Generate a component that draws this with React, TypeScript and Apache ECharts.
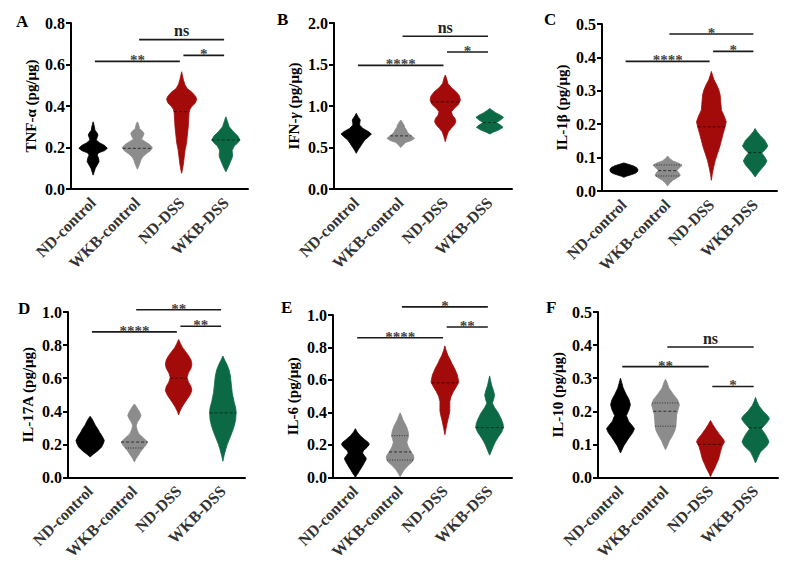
import React, { useEffect, useRef } from 'react';
import * as echarts from 'echarts';

const categories = ['ND-control', 'WKB-control', 'ND-DSS', 'WKB-DSS'];
const groupColors = ['#000000', '#8c8c8c', '#a30b0b', '#0b6a45'];
const medianColors = ['#000000', '#2e2e2e', '#4a0000', '#03301c'];

// Violin profiles: [value, relative half-width (fraction of category band)], top to bottom

// ---- Panel A: TNF-α
const tnfNDcontrol = [[0.324, 0], [0.30, 0.03], [0.284, 0.04], [0.27, 0.09], [0.26, 0.11], [0.248, 0.09], [0.236, 0.07], [0.222, 0.15], [0.21, 0.26], [0.196, 0.32], [0.185, 0.26], [0.175, 0.13], [0.164, 0.09], [0.15, 0.12], [0.132, 0.135], [0.115, 0.09], [0.10, 0.05], [0.08, 0.02], [0.067, 0]];
const tnfWKBcontrol = [[0.324, 0], [0.31, 0.03], [0.29, 0.05], [0.28, 0.11], [0.268, 0.15], [0.255, 0.13], [0.24, 0.09], [0.228, 0.18], [0.214, 0.28], [0.20, 0.34], [0.185, 0.3], [0.17, 0.2], [0.155, 0.12], [0.14, 0.08], [0.12, 0.05], [0.105, 0.02], [0.095, 0]];
const tnfNDDSS = [[0.565, 0], [0.545, 0.02], [0.527, 0.04], [0.505, 0.07], [0.485, 0.12], [0.465, 0.24], [0.445, 0.32], [0.432, 0.34], [0.415, 0.31], [0.397, 0.23], [0.385, 0.19], [0.37, 0.17], [0.34, 0.16], [0.30, 0.15], [0.26, 0.13], [0.22, 0.11], [0.19, 0.08], [0.156, 0.06], [0.12, 0.04], [0.09, 0.015], [0.076, 0]];
const tnfWKBDSS = [[0.348, 0], [0.33, 0.03], [0.30, 0.075], [0.276, 0.17], [0.255, 0.27], [0.236, 0.32], [0.22, 0.26], [0.207, 0.19], [0.185, 0.14], [0.17, 0.15], [0.156, 0.15], [0.14, 0.12], [0.124, 0.09], [0.10, 0.04], [0.083, 0]];
const tnfMedians = [0.196, 0.196, 0.373, 0.236];
const tnfQuartiles = [[], [], [], []];
const tnfSig = [[0, 2, 0.615, '**'], [1, 3, 0.72, 'ns'], [2, 3, 0.644, '*']];

// ---- Panel B: IFN-γ
const ifnNDcontrol = [[0.912, 0], [0.88, 0.03], [0.85, 0.07], [0.83, 0.09], [0.80, 0.08], [0.77, 0.075], [0.73, 0.15], [0.69, 0.28], [0.663, 0.34], [0.63, 0.28], [0.59, 0.19], [0.55, 0.14], [0.51, 0.09], [0.47, 0.04], [0.43, 0]];
const ifnWKBcontrol = [[0.83, 0], [0.80, 0.04], [0.77, 0.075], [0.74, 0.09], [0.71, 0.13], [0.685, 0.15], [0.663, 0.19], [0.64, 0.24], [0.61, 0.31], [0.585, 0.24], [0.56, 0.11], [0.53, 0.05], [0.50, 0]];
const ifnNDDSS = [[1.373, 0], [1.33, 0.03], [1.27, 0.06], [1.22, 0.14], [1.17, 0.25], [1.12, 0.32], [1.07, 0.34], [1.02, 0.3], [0.97, 0.2], [0.93, 0.14], [0.89, 0.16], [0.85, 0.22], [0.81, 0.24], [0.77, 0.2], [0.73, 0.13], [0.69, 0.07], [0.63, 0.03], [0.57, 0]];
const ifnWKBDSS = [[0.97, 0], [0.95, 0.05], [0.92, 0.13], [0.89, 0.24], [0.863, 0.31], [0.83, 0.24], [0.80, 0.15], [0.77, 0.24], [0.743, 0.3], [0.71, 0.2], [0.685, 0.08], [0.663, 0]];
const ifnMedians = [0.66, 0.64, 1.05, 0.8];
const ifnQuartiles = [[], [], [], []];
const ifnSig = [[0, 2, 1.49, '****'], [1, 3, 1.84, 'ns'], [2, 3, 1.65, '*']];

// ---- Panel C: IL-1β
const il1NDcontrol = [[0.084, 0], [0.08, 0.1], [0.075, 0.22], [0.07, 0.29], [0.064, 0.32], [0.058, 0.31], [0.053, 0.26], [0.048, 0.15], [0.044, 0.05], [0.041, 0]];
const il1WKBcontrol = [[0.105, 0], [0.098, 0.04], [0.09, 0.12], [0.083, 0.26], [0.077, 0.33], [0.07, 0.28], [0.062, 0.21], [0.054, 0.26], [0.047, 0.29], [0.04, 0.22], [0.032, 0.12], [0.024, 0.05], [0.015, 0]];
const il1NDDSS = [[0.358, 0], [0.345, 0.03], [0.333, 0.06], [0.318, 0.12], [0.303, 0.17], [0.288, 0.2], [0.273, 0.21], [0.258, 0.22], [0.242, 0.23], [0.225, 0.29], [0.207, 0.34], [0.19, 0.31], [0.172, 0.27], [0.152, 0.23], [0.132, 0.19], [0.112, 0.14], [0.092, 0.09], [0.07, 0.05], [0.05, 0.02], [0.032, 0]];
const il1WKBDSS = [[0.187, 0], [0.178, 0.04], [0.167, 0.11], [0.152, 0.22], [0.135, 0.29], [0.125, 0.24], [0.114, 0.15], [0.102, 0.22], [0.09, 0.27], [0.078, 0.22], [0.067, 0.15], [0.055, 0.07], [0.042, 0]];
const il1Medians = [0.062, 0.061, 0.192, 0.115];
const il1Quartiles = [[], [0.078, 0.045], [], []];
const il1Sig = [[0, 2, 0.388, '****'], [1, 3, 0.47, '*'], [2, 3, 0.418, '*']];

// ---- Panel D: IL-17A
const il17NDcontrol = [[0.37, 0], [0.355, 0.04], [0.335, 0.08], [0.314, 0.12], [0.295, 0.17], [0.274, 0.21], [0.25, 0.27], [0.224, 0.32], [0.205, 0.3], [0.184, 0.26], [0.168, 0.2], [0.154, 0.14], [0.14, 0.07], [0.124, 0]];
const il17WKBcontrol = [[0.444, 0], [0.43, 0.04], [0.414, 0.075], [0.395, 0.12], [0.374, 0.15], [0.355, 0.12], [0.335, 0.07], [0.314, 0.04], [0.29, 0.06], [0.264, 0.1], [0.24, 0.2], [0.214, 0.3], [0.195, 0.26], [0.174, 0.19], [0.155, 0.14], [0.134, 0.09], [0.115, 0.04], [0.094, 0]];
const il17NDDSS = [[0.834, 0], [0.81, 0.04], [0.784, 0.09], [0.76, 0.16], [0.734, 0.23], [0.71, 0.28], [0.684, 0.3], [0.66, 0.28], [0.632, 0.22], [0.604, 0.19], [0.577, 0.22], [0.55, 0.28], [0.524, 0.3], [0.495, 0.25], [0.464, 0.17], [0.444, 0.12], [0.424, 0.075], [0.40, 0.03], [0.378, 0]];
const il17WKBDSS = [[0.734, 0], [0.71, 0.04], [0.684, 0.09], [0.65, 0.14], [0.614, 0.17], [0.564, 0.19], [0.514, 0.21], [0.46, 0.25], [0.42, 0.29], [0.394, 0.3], [0.35, 0.29], [0.314, 0.26], [0.274, 0.21], [0.234, 0.15], [0.20, 0.1], [0.174, 0.07], [0.135, 0.03], [0.098, 0]];
const il17Medians = [0.224, 0.214, 0.6, 0.39];
const il17Quartiles = [[], [0.178], [], []];
const il17Sig = [[0, 2, 0.88, '****'], [1, 3, 1.014, '**'], [2, 3, 0.914, '**']];

// ---- Panel E: IL-6
const il6NDcontrol = [[0.30, 0], [0.28, 0.04], [0.257, 0.11], [0.235, 0.2], [0.215, 0.29], [0.203, 0.31], [0.185, 0.26], [0.165, 0.18], [0.15, 0.16], [0.135, 0.2], [0.12, 0.24], [0.11, 0.24], [0.09, 0.2], [0.066, 0.15], [0.045, 0.1], [0.026, 0.06], [0.01, 0.02], [0.0, 0]];
const il6WKBcontrol = [[0.398, 0], [0.38, 0.03], [0.357, 0.06], [0.33, 0.11], [0.307, 0.15], [0.28, 0.18], [0.257, 0.19], [0.235, 0.17], [0.217, 0.15], [0.19, 0.18], [0.16, 0.24], [0.135, 0.3], [0.116, 0.31], [0.095, 0.27], [0.076, 0.19], [0.05, 0.1], [0.025, 0.04], [0.005, 0]];
const il6NDDSS = [[0.81, 0], [0.78, 0.03], [0.75, 0.07], [0.729, 0.11], [0.70, 0.16], [0.669, 0.22], [0.63, 0.28], [0.588, 0.31], [0.56, 0.26], [0.528, 0.19], [0.50, 0.14], [0.468, 0.11], [0.44, 0.11], [0.408, 0.11], [0.38, 0.09], [0.347, 0.06], [0.30, 0.025], [0.263, 0]];
const il6WKBDSS = [[0.625, 0], [0.60, 0.02], [0.568, 0.045], [0.54, 0.08], [0.508, 0.11], [0.48, 0.09], [0.458, 0.06], [0.43, 0.11], [0.398, 0.19], [0.36, 0.26], [0.33, 0.3], [0.307, 0.31], [0.28, 0.27], [0.247, 0.19], [0.22, 0.13], [0.197, 0.09], [0.17, 0.05], [0.137, 0]];
const il6Medians = [0.15, 0.157, 0.582, 0.307];
const il6Quartiles = [[], [0.257, 0.107], [], []];
const il6Sig = [[0, 2, 0.86, '****'], [1, 3, 1.05, '*'], [2, 3, 0.926, '**']];

// ---- Panel F: IL-10
const il10NDcontrol = [[0.30, 0], [0.285, 0.03], [0.27, 0.06], [0.25, 0.13], [0.235, 0.19], [0.22, 0.22], [0.205, 0.19], [0.187, 0.13], [0.17, 0.18], [0.155, 0.27], [0.147, 0.31], [0.135, 0.27], [0.122, 0.2], [0.112, 0.15], [0.095, 0.07], [0.074, 0]];
const il10WKBcontrol = [[0.297, 0], [0.285, 0.04], [0.27, 0.075], [0.25, 0.18], [0.235, 0.27], [0.22, 0.31], [0.205, 0.28], [0.19, 0.25], [0.172, 0.24], [0.155, 0.23], [0.142, 0.21], [0.125, 0.15], [0.112, 0.09], [0.095, 0.04], [0.084, 0]];
const il10NDDSS = [[0.172, 0], [0.16, 0.05], [0.147, 0.11], [0.13, 0.2], [0.115, 0.29], [0.107, 0.31], [0.095, 0.26], [0.077, 0.22], [0.06, 0.19], [0.052, 0.17], [0.04, 0.13], [0.027, 0.09], [0.012, 0.03], [0.002, 0]];
const il10WKBDSS = [[0.242, 0], [0.23, 0.03], [0.217, 0.075], [0.20, 0.17], [0.185, 0.28], [0.177, 0.31], [0.165, 0.25], [0.147, 0.13], [0.13, 0.22], [0.115, 0.28], [0.107, 0.3], [0.095, 0.25], [0.077, 0.11], [0.06, 0.05], [0.044, 0]];
const il10Medians = [0.18, 0.2, 0.1, 0.15];
const il10Quartiles = [[], [0.225, 0.155], [], []];
const il10Sig = [[0, 2, 0.335, '**'], [1, 3, 0.394, 'ns'], [2, 3, 0.275, '*']];

const panelLetters = ['A', 'B', 'C', 'D', 'E', 'F'];
const yTitles = ['TNF-α (pg/μg)', 'IFN-{i|γ} (pg/μg)', 'IL-1β (pg/μg)', 'IL-17A (pg/μg)', 'IL-6 (pg/μg)', 'IL-10 (pg/μg)'];
const yMaxes = [0.8, 2.0, 0.5, 1.0, 1.0, 0.5];
const yIntervals = [0.2, 0.5, 0.1, 0.2, 0.2, 0.1];

const panelData = [
  { profiles: [tnfNDcontrol, tnfWKBcontrol, tnfNDDSS, tnfWKBDSS], medians: tnfMedians, quartiles: tnfQuartiles, sig: tnfSig },
  { profiles: [ifnNDcontrol, ifnWKBcontrol, ifnNDDSS, ifnWKBDSS], medians: ifnMedians, quartiles: ifnQuartiles, sig: ifnSig },
  { profiles: [il1NDcontrol, il1WKBcontrol, il1NDDSS, il1WKBDSS], medians: il1Medians, quartiles: il1Quartiles, sig: il1Sig },
  { profiles: [il17NDcontrol, il17WKBcontrol, il17NDDSS, il17WKBDSS], medians: il17Medians, quartiles: il17Quartiles, sig: il17Sig },
  { profiles: [il6NDcontrol, il6WKBcontrol, il6NDDSS, il6WKBDSS], medians: il6Medians, quartiles: il6Quartiles, sig: il6Sig },
  { profiles: [il10NDcontrol, il10WKBcontrol, il10NDDSS, il10WKBDSS], medians: il10Medians, quartiles: il10Quartiles, sig: il10Sig },
];

// layout (pixels)
const gridBoxes = [
  { left: 71, top: 23, width: 177, height: 166 },
  { left: 334, top: 23, width: 178, height: 166 },
  { left: 602, top: 24, width: 175, height: 167 },
  { left: 68, top: 312, width: 177, height: 167 },
  { left: 333, top: 315, width: 179, height: 166 },
  { left: 598, top: 312, width: 180, height: 167 },
];
const letterPos = [
  { left: 11, top: 8 }, { left: 272, top: 6 }, { left: 539, top: 6 },
  { left: 13, top: 295 }, { left: 276, top: 294 }, { left: 541, top: 294 },
];

const SERIF = '"Liberation Serif", "DejaVu Serif", serif';

function widthAt(prof: number[][], v: number): number {
  for (let i = 0; i < prof.length - 1; i++) {
    const [v1, w1] = prof[i];
    const [v2, w2] = prof[i + 1];
    if (v <= v1 && v >= v2) {
      const t = v1 === v2 ? 0 : (v1 - v) / (v1 - v2);
      return w1 + (w2 - w1) * t;
    }
  }
  return 0;
}

export default function App() {
  const ref = useRef<HTMLDivElement>(null);
  useEffect(() => {
    if (!ref.current) return;
    const chart = echarts.init(ref.current, null, { renderer: 'svg' });
    const grid: any[] = [];
    const xAxis: any[] = [];
    const yAxis: any[] = [];
    const series: any[] = [];
    const title: any[] = [];

    panelData.forEach((pd, p) => {
      grid.push({ ...gridBoxes[p], containLabel: false });
      title.push({
        text: panelLetters[p], left: letterPos[p].left, top: letterPos[p].top,
        textStyle: { fontFamily: SERIF, fontWeight: 'bold', fontSize: 17, color: '#000' },
      });
      xAxis.push({
        type: 'category', gridIndex: p, data: categories, boundaryGap: true,
        axisLine: { show: true, lineStyle: { color: '#000', width: 2 } },
        axisTick: { show: false },
        axisLabel: {
          rotate: 45, interval: 0, margin: 11, color: '#333333',
          fontFamily: SERIF, fontWeight: 'bold', fontSize: 16,
        },
        splitLine: { show: false },
      });
      yAxis.push({
        type: 'value', gridIndex: p, min: 0, max: yMaxes[p], interval: yIntervals[p],
        name: yTitles[p], nameLocation: 'middle', nameGap: 33,
        nameTextStyle: {
          fontFamily: SERIF, fontWeight: 'bold', fontSize: 15, color: '#000',
          rich: { i: { fontFamily: SERIF, fontWeight: 'bold', fontStyle: 'italic', fontSize: 15, color: '#000' } },
        },
        axisLine: { show: true, lineStyle: { color: '#000', width: 2 } },
        axisTick: { show: true, length: 5, lineStyle: { color: '#000', width: 2 } },
        axisLabel: {
          color: '#000', fontFamily: SERIF, fontWeight: 'bold', fontSize: 16, margin: 6,
          formatter: (v: number) => v.toFixed(1),
        },
        splitLine: { show: false },
      });

      // violins
      series.push({
        type: 'custom', xAxisIndex: p, yAxisIndex: p, clip: false,
        data: categories.map((_, i) => [i, pd.medians[i]]),
        renderItem: (params: any, api: any) => {
          const gi = params.dataIndex;
          const prof = pd.profiles[gi];
          const band = api.size([1, 0])[0];
          const cx = api.coord([gi, 0])[0];
          const right = prof.map(([v, w]) => [cx + w * band, api.coord([gi, v])[1]]);
          const left = prof.slice(1, prof.length - 1).reverse().map(([v, w]) => [cx - w * band, api.coord([gi, v])[1]]);
          const children: any[] = [{
            type: 'polygon',
            shape: { points: right.concat(left) },
            style: { fill: groupColors[gi], stroke: groupColors[gi], lineWidth: 0.8, lineJoin: 'round' },
          }];
          const addLine = (v: number, dash: number[]) => {
            const w = widthAt(prof, v) * band;
            const y = api.coord([gi, v])[1];
            children.push({
              type: 'line', shape: { x1: cx - w, y1: y, x2: cx + w, y2: y },
              style: { stroke: medianColors[gi], lineWidth: 1, lineDash: dash },
            });
          };
          addLine(pd.medians[gi], [3, 2]);
          (pd.quartiles[gi] as number[]).forEach((q) => addLine(q, [1, 1.5]));
          return { type: 'group', children };
        },
        z: 3,
      });

      // significance brackets
      series.push({
        type: 'custom', xAxisIndex: p, yAxisIndex: p, clip: false,
        data: pd.sig.map((s) => [s[0], s[2], s[1]]),
        renderItem: (params: any, api: any) => {
          const s = pd.sig[params.dataIndex];
          const from = s[0] as number, to = s[1] as number, yv = s[2] as number, label = s[3] as string;
          const band = api.size([1, 0])[0];
          const x1 = api.coord([from, yv])[0] + 0.04 * band;
          const x2 = api.coord([to, yv])[0] - 0.04 * band;
          const y = api.coord([from, yv])[1];
          const isStar = label.indexOf('*') >= 0;
          return {
            type: 'group',
            children: [
              { type: 'line', shape: { x1, y1: y, x2, y2: y }, style: { stroke: '#1a1a1a', lineWidth: 1.6 } },
              {
                type: 'text',
                style: {
                  text: label, x: (x1 + x2) / 2, y: y - 1,
                  align: 'center', verticalAlign: isStar ? 'middle' : 'bottom',
                  fontFamily: SERIF, fontWeight: 'bold', fontSize: isStar ? 15 : 16,
                  fill: isStar ? '#444' : '#222',
                },
              },
            ],
          };
        },
        z: 4,
      });
    });

    chart.setOption({
      animation: false,
      backgroundColor: '#ffffff',
      title, grid, xAxis, yAxis, series,
    });
    return () => chart.dispose();
  }, []);
  return <div ref={ref} style={{ position: 'fixed', left: 0, top: 0, width: 800, height: 562, background: '#fff' }} />;
}
